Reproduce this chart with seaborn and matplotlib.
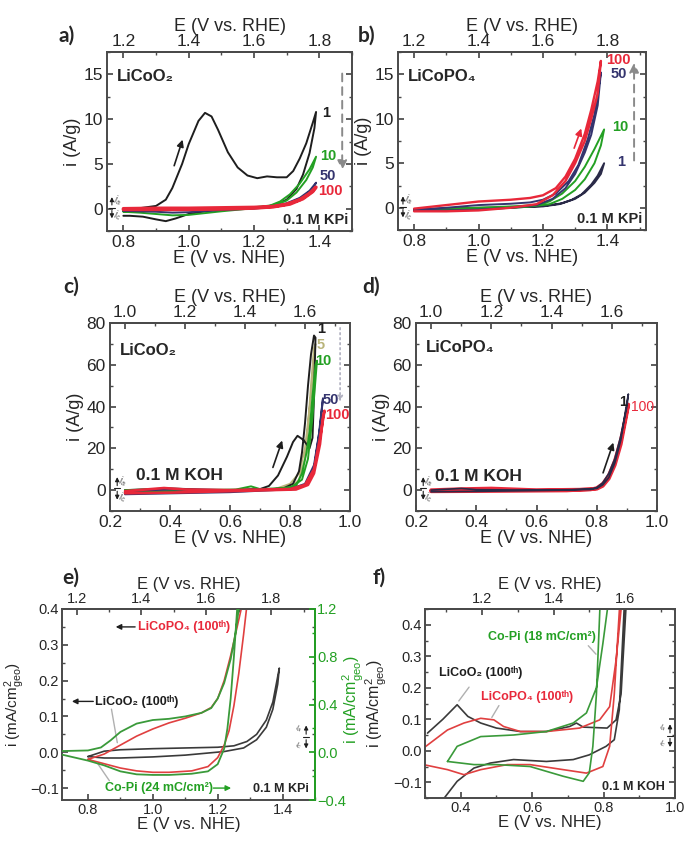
import numpy as np
import pandas as pd
import matplotlib
matplotlib.use("Agg")
import matplotlib.pyplot as plt
import seaborn as sns
from matplotlib.ticker import MultipleLocator

# ---------------- data: panel a (LiCoO2, KPi) ----------------
a1_fE = [0.80, 0.85, 0.90, 0.93, 0.95, 0.98, 1.00, 1.03, 1.05, 1.07, 1.09, 1.12, 1.15, 1.18, 1.21, 1.24, 1.27, 1.30, 1.32, 1.34, 1.36, 1.38, 1.39]
a1_fi = [0.0, 0.05, 0.3, 1.0, 2.3, 5.0, 7.2, 9.8, 10.7, 10.3, 8.8, 6.3, 4.6, 3.7, 3.4, 3.6, 3.5, 3.5, 4.2, 5.6, 7.3, 9.6, 10.8]
a1_rE = [1.385, 1.37, 1.35, 1.33, 1.30, 1.27, 1.24, 1.20, 1.10, 1.05, 1.00, 0.96, 0.93, 0.90, 0.86, 0.82, 0.80]
a1_ri = [9.0, 6.2, 3.8, 2.2, 1.0, 0.5, 0.25, 0.1, -0.1, -0.3, -0.6, -1.1, -1.4, -1.2, -0.9, -0.8, -0.8]
a10_fE = [0.80, 0.90, 1.00, 1.10, 1.20, 1.25, 1.28, 1.31, 1.34, 1.37, 1.39]
a10_fi = [-0.3, -0.2, -0.05, 0.05, 0.15, 0.35, 0.8, 1.6, 2.8, 4.4, 5.8]
a10_rE = [1.38, 1.36, 1.33, 1.30, 1.26, 1.20, 1.10, 1.00, 0.95, 0.90, 0.85, 0.80]
a10_ri = [4.6, 3.2, 1.8, 0.9, 0.35, 0.05, -0.3, -0.7, -0.75, -0.6, -0.45, -0.35]
a50_fE = [0.80, 0.90, 1.00, 1.10, 1.20, 1.26, 1.30, 1.34, 1.37, 1.39]
a50_fi = [-0.2, -0.1, 0.0, 0.05, 0.1, 0.25, 0.6, 1.2, 2.0, 2.9]
a50_rE = [1.38, 1.35, 1.31, 1.26, 1.20, 1.10, 1.00, 0.95, 0.90, 0.80]
a50_ri = [2.2, 1.3, 0.6, 0.2, 0.0, -0.15, -0.4, -0.45, -0.35, -0.25]
a100_fE = [0.80, 0.90, 1.00, 1.10, 1.20, 1.26, 1.30, 1.34, 1.37, 1.39]
a100_fi = [0.0, 0.05, 0.05, 0.1, 0.15, 0.25, 0.5, 1.0, 1.7, 2.4]
a100_rE = [1.38, 1.35, 1.31, 1.26, 1.20, 1.10, 1.00, 0.90, 0.80]
a100_ri = [1.9, 1.1, 0.5, 0.2, 0.05, -0.05, -0.1, -0.1, -0.1]

# ---------------- data: panel b (LiCoPO4, KPi) ----------------
b1_fE = [0.80, 0.90, 1.00, 1.10, 1.20, 1.25, 1.29, 1.32, 1.35, 1.37, 1.39]
b1_fi = [-0.2, -0.1, 0.0, 0.05, 0.15, 0.4, 0.9, 1.5, 2.6, 3.6, 5.0]
b1_rE = [1.38, 1.36, 1.33, 1.30, 1.26, 1.20, 1.10, 1.00, 0.90, 0.80]
b1_ri = [3.8, 2.8, 1.7, 1.0, 0.5, 0.2, 0.0, -0.1, -0.2, -0.3]
b10_fE = [0.80, 0.90, 1.00, 1.10, 1.18, 1.22, 1.26, 1.30, 1.33, 1.36, 1.39]
b10_fi = [-0.2, -0.1, 0.0, 0.15, 0.3, 0.7, 1.6, 3.0, 4.6, 6.6, 8.8]
b10_rE = [1.38, 1.36, 1.33, 1.30, 1.26, 1.22, 1.15, 1.05, 0.95, 0.85, 0.80]
b10_ri = [7.0, 5.0, 3.2, 2.0, 1.0, 0.4, 0.1, -0.1, -0.25, -0.3, -0.3]
b50_fE = [0.80, 0.90, 1.00, 1.10, 1.16, 1.20, 1.24, 1.28, 1.31, 1.34, 1.36, 1.38]
b50_fi = [-0.2, 0.0, 0.3, 0.45, 0.6, 0.9, 1.6, 3.0, 4.8, 7.8, 10.5, 15.2]
b50_rE = [1.37, 1.35, 1.33, 1.30, 1.27, 1.23, 1.18, 1.10, 1.00, 0.90, 0.80]
b50_ri = [11.5, 8.2, 6.2, 3.8, 2.2, 1.0, 0.3, 0.0, -0.2, -0.3, -0.3]
b100_fE = [0.80, 0.90, 1.00, 1.10, 1.16, 1.20, 1.24, 1.27, 1.30, 1.33, 1.35, 1.37, 1.38]
b100_fi = [-0.1, 0.3, 0.7, 0.9, 1.1, 1.4, 2.2, 3.5, 5.5, 8.3, 11.0, 14.2, 16.5]
b100_rE = [1.37, 1.35, 1.33, 1.30, 1.27, 1.23, 1.18, 1.10, 1.00, 0.90, 0.80]
b100_ri = [12.8, 10.0, 7.5, 5.0, 3.0, 1.4, 0.4, 0.0, -0.3, -0.4, -0.4]

# ---------------- data: panel c (LiCoO2, KOH) ----------------
c1_fE = [0.25, 0.40, 0.50, 0.60, 0.70, 0.73, 0.76, 0.79, 0.81, 0.825, 0.845, 0.865, 0.875, 0.88, 0.885]
c1_fi = [0.0, 0.8, 0.3, 0.0, 0.5, 2.0, 7.0, 16.0, 23.0, 26.0, 24.0, 20.0, 25.0, 45.0, 73.0]
c1_rE = [0.88, 0.87, 0.86, 0.85, 0.84, 0.83, 0.81, 0.78, 0.70, 0.60, 0.40, 0.25]
c1_ri = [74.0, 65.0, 50.0, 32.0, 18.0, 9.0, 3.0, 1.0, 0.0, -0.5, -1.0, -1.5]
c5_fE = [0.25, 0.60, 0.75, 0.80, 0.83, 0.85, 0.87, 0.885]
c5_fi = [0.0, 0.0, 0.5, 3.0, 8.0, 20.0, 45.0, 70.0]
c5_rE = [0.88, 0.87, 0.86, 0.85, 0.83, 0.80, 0.60, 0.25]
c5_ri = [68.0, 50.0, 30.0, 15.0, 5.0, 1.0, 0.0, -1.0]
c10_fE = [0.25, 0.38, 0.50, 0.62, 0.67, 0.70, 0.80, 0.84, 0.86, 0.875, 0.89]
c10_fi = [0.0, 0.5, 0.0, 0.3, 1.8, 0.5, 1.0, 5.0, 15.0, 35.0, 62.0]
c10_rE = [0.885, 0.875, 0.865, 0.855, 0.84, 0.82, 0.75, 0.60, 0.40, 0.25]
c10_ri = [60.0, 45.0, 28.0, 18.0, 8.0, 2.0, 0.3, -0.5, -0.5, -1.0]
c50_fE = [0.25, 0.40, 0.60, 0.80, 0.85, 0.88, 0.90, 0.91]
c50_fi = [-0.5, 0.3, 0.0, 0.5, 3.0, 12.0, 30.0, 44.0]
c50_rE = [0.905, 0.895, 0.88, 0.86, 0.82, 0.60, 0.25]
c50_ri = [38.0, 25.0, 10.0, 3.0, 0.5, -1.0, -2.0]
c100_fE = [0.25, 0.38, 0.45, 0.60, 0.80, 0.85, 0.88, 0.90, 0.915]
c100_fi = [-0.5, 1.0, 0.3, 0.0, 0.5, 2.5, 10.0, 25.0, 38.0]
c100_rE = [0.91, 0.90, 0.88, 0.86, 0.82, 0.60, 0.40, 0.25]
c100_ri = [35.0, 22.0, 8.0, 2.5, 0.3, -0.5, -1.2, -1.5]

# ---------------- data: panel d (LiCoPO4, KOH) ----------------
d1_fE = [0.25, 0.35, 0.40, 0.60, 0.78, 0.80, 0.82, 0.84, 0.86, 0.88, 0.90, 0.905]
d1_fi = [0.0, 0.8, 0.2, 0.0, 0.3, 1.2, 3.5, 8.0, 15.0, 26.0, 40.0, 46.0]
d1_rE = [0.90, 0.88, 0.86, 0.84, 0.82, 0.80, 0.70, 0.40, 0.25]
d1_ri = [42.0, 24.0, 13.0, 6.0, 2.5, 0.8, 0.0, -0.6, -0.8]
d100_fE = [0.25, 0.35, 0.45, 0.60, 0.78, 0.80, 0.82, 0.84, 0.86, 0.88, 0.90, 0.905]
d100_fi = [0.0, 0.5, 0.8, 0.0, 0.3, 1.0, 3.0, 7.0, 14.0, 24.0, 38.0, 41.0]
d100_rE = [0.90, 0.88, 0.86, 0.84, 0.82, 0.80, 0.70, 0.40, 0.25]
d100_ri = [37.0, 22.0, 12.0, 5.5, 2.0, 0.6, -0.2, -0.5, -0.6]

# ---------------- data: panel e (KPi, mA/cm2 geo) ----------------
eK_fE = [0.80, 0.85, 0.90, 1.00, 1.10, 1.20, 1.25, 1.29, 1.32, 1.35, 1.37, 1.39]
eK_fi = [-0.012, 0.003, 0.007, 0.010, 0.012, 0.014, 0.018, 0.03, 0.05, 0.09, 0.14, 0.235]
eK_rE = [1.385, 1.37, 1.35, 1.32, 1.28, 1.22, 1.10, 1.00, 0.90, 0.85, 0.80]
eK_ri = [0.19, 0.12, 0.07, 0.035, 0.012, 0.002, -0.008, -0.013, -0.016, -0.016, -0.012]
eP_fE = [0.80, 0.85, 0.90, 0.95, 1.00, 1.05, 1.10, 1.15, 1.18, 1.20, 1.22, 1.24, 1.26, 1.275]
eP_fi = [-0.02, -0.005, 0.02, 0.045, 0.065, 0.082, 0.095, 0.11, 0.125, 0.15, 0.2, 0.27, 0.35, 0.41]
eP_rE = [1.29, 1.28, 1.265, 1.25, 1.235, 1.22, 1.20, 1.17, 1.12, 1.05, 1.00, 0.95, 0.90, 0.85, 0.80]
eP_ri = [0.41, 0.33, 0.22, 0.13, 0.06, 0.02, -0.015, -0.04, -0.052, -0.056, -0.056, -0.052, -0.044, -0.032, -0.02]
eC_fE = [0.72, 0.80, 0.84, 0.87, 0.90, 0.95, 1.00, 1.05, 1.10, 1.15, 1.18, 1.20, 1.22, 1.24, 1.255, 1.265]
eC_fi = [0.01, 0.015, 0.04, 0.1, 0.17, 0.24, 0.27, 0.28, 0.3, 0.33, 0.37, 0.45, 0.58, 0.78, 1.0, 1.2]
eC_rE = [1.26, 1.25, 1.24, 1.23, 1.22, 1.20, 1.17, 1.12, 1.05, 1.00, 0.95, 0.90, 0.85, 0.80, 0.72]
eC_ri = [1.2, 0.8, 0.45, 0.2, 0.03, -0.1, -0.16, -0.18, -0.19, -0.19, -0.185, -0.16, -0.11, -0.07, -0.02]

# ---------------- data: panel f (KOH, mA/cm2 geo) ----------------
fK_fE = [0.307, 0.35, 0.39, 0.42, 0.456, 0.50, 0.567, 0.64, 0.705, 0.724, 0.743, 0.81, 0.835, 0.849, 0.863]
fK_fi = [0.056, 0.10, 0.146, 0.109, 0.088, 0.072, 0.061, 0.061, 0.077, 0.088, 0.075, 0.072, 0.098, 0.18, 0.46]
fK_rE = [0.858, 0.844, 0.83, 0.807, 0.76, 0.715, 0.64, 0.548, 0.483, 0.437, 0.39, 0.354, 0.335]
fK_ri = [0.46, 0.13, 0.035, 0.014, -0.013, -0.028, -0.034, -0.028, -0.039, -0.055, -0.097, -0.15, -0.17]
fP_fE = [0.30, 0.363, 0.409, 0.456, 0.493, 0.52, 0.567, 0.64, 0.733, 0.789, 0.817, 0.835, 0.85]
fP_fi = [0.012, 0.066, 0.088, 0.103, 0.098, 0.077, 0.061, 0.061, 0.072, 0.098, 0.14, 0.288, 0.46]
fP_rE = [0.845, 0.83, 0.817, 0.798, 0.752, 0.687, 0.594, 0.53, 0.456, 0.409, 0.363, 0.30]
fP_ri = [0.46, 0.18, 0.014, -0.05, -0.071, -0.06, -0.044, -0.044, -0.06, -0.076, -0.06, -0.045]
fC_fE = [0.363, 0.39, 0.456, 0.548, 0.64, 0.715, 0.752, 0.78, 0.798, 0.812]
fC_fi = [-0.034, 0.014, 0.045, 0.05, 0.061, 0.088, 0.12, 0.2, 0.34, 0.46]
fC_rE = [0.79, 0.78, 0.77, 0.76, 0.743, 0.687, 0.594, 0.50, 0.437, 0.363]
fC_ri = [0.46, 0.18, 0.014, -0.07, -0.097, -0.081, -0.05, -0.044, -0.044, -0.034]

# tick labels
ticks_nhe_ab = [0.8, 1.0, 1.2, 1.4]
ticks_rhe_ab = [1.2, 1.4, 1.6, 1.8]
ticks_nhe_cd = [0.2, 0.4, 0.6, 0.8, 1.0]
ticks_rhe_cd = [1.0, 1.2, 1.4, 1.6]
ticks_nhe_e = [0.8, 1.0, 1.2, 1.4]
ticks_rhe_e = [1.2, 1.4, 1.6, 1.8]
ticks_nhe_f = [0.4, 0.6, 0.8, 1.0]
ticks_rhe_f = [1.2, 1.4, 1.6]

# ---------------- style ----------------
sns.set_theme(style="ticks")
plt.rcParams["font.family"] = ["Liberation Sans", "DejaVu Sans"]
plt.rcParams["mathtext.fontset"] = "custom"
plt.rcParams["mathtext.rm"] = "Liberation Sans"
plt.rcParams["mathtext.it"] = "Liberation Sans:italic"
plt.rcParams["mathtext.bf"] = "Liberation Sans:bold"

BLACK = "#1e1e1e"
GREEN = "#23a023"
NAVY = "#34346e"
RED = "#e8283a"
OLIVE = "#b9b47a"
GRAY = "#8a8a8a"
SPINE = "#4a4a4a"

W, H = 695, 844
fig = plt.figure(figsize=(W / 100, H / 100), dpi=100)


def add_ax(l, r, t, b):
    return fig.add_axes([l / W, 1 - b / H, (r - l) / W, (b - t) / H])


def cv(ax, fE, fi, rE, ri, color, lw=1.4, z=2):
    df = pd.DataFrame({"E": list(fE) + list(rE), "i": list(fi) + list(ri)})
    sns.lineplot(data=df, x="E", y="i", sort=False, estimator=None,
                 color=color, lw=lw, ax=ax, legend=False, zorder=z)


def style(ax, xlim, ylim, xt, xminor, ymaj, ymin, off, rt, fs, lfs, rmin=0.1, pad=3):
    ax.set_xlim(*xlim)
    ax.set_xticks(xt)
    ax.xaxis.set_minor_locator(MultipleLocator(xminor))
    ax.yaxis.set_major_locator(MultipleLocator(ymaj))
    ax.yaxis.set_minor_locator(MultipleLocator(ymin))
    ax.set_ylim(*ylim)
    ax.tick_params(which="both", direction="in", top=False, right=True,
                   labelsize=fs, color=SPINE, pad=pad)
    ax.tick_params(which="major", length=4)
    ax.tick_params(which="minor", length=2)
    for s in ax.spines.values():
        s.set_color(SPINE)
        s.set_linewidth(1.4)
    ax.set_xlabel("E (V vs. NHE)", fontsize=lfs, labelpad=0)
    sec = ax.secondary_xaxis("top", functions=(lambda x: x + off, lambda x: x - off))
    sec.set_xticks(rt)
    sec.xaxis.set_minor_locator(MultipleLocator(rmin))
    sec.tick_params(which="both", direction="in", labelsize=fs, color=SPINE, pad=2)
    sec.tick_params(which="major", length=4)
    sec.tick_params(which="minor", length=2)
    sec.spines["top"].set_color(SPINE)
    sec.spines["top"].set_linewidth(1.4)
    sec.set_xlabel("E (V vs. RHE)", fontsize=lfs, labelpad=2.5)
    return sec


def iaic(ax, x, y, size=7, right=False):
    # small legend glyph: anodic up, cathodic down
    ax.annotate("", xy=(x, y + 0.075), xytext=(x, y), xycoords="axes fraction",
                arrowprops=dict(arrowstyle="-|>", color=BLACK, lw=0.8, mutation_scale=6))
    ax.annotate("", xy=(x, y - 0.075), xytext=(x, y), xycoords="axes fraction",
                arrowprops=dict(arrowstyle="-|>", color=BLACK, lw=0.8, mutation_scale=6))
    ax.plot([x - 0.012, x + 0.012], [y, y], transform=ax.transAxes, color=BLACK, lw=0.8)
    dx = -0.03 if right else 0.022
    ax.text(x + dx, y + 0.04, "$i_a$", transform=ax.transAxes, fontsize=size,
            color="#555555", ha="center", va="center", rotation=-15)
    ax.text(x + dx, y - 0.045, "$i_c$", transform=ax.transAxes, fontsize=size,
            color="#555555", ha="center", va="center", rotation=-15)


# ================= panel a =================
ax = add_ax(107, 352, 52, 231)
cv(ax, a1_fE, a1_fi, a1_rE, a1_ri, BLACK)
cv(ax, a10_fE, a10_fi, a10_rE, a10_ri, GREEN)
cv(ax, a50_fE, a50_fi, a50_rE, a50_ri, NAVY)
cv(ax, a100_fE, a100_fi, a100_rE, a100_ri, RED, lw=2.4)
style(ax, (0.75, 1.5), (-2.5, 17.5), ticks_nhe_ab, 0.1, 5, 2.5, 0.4, ticks_rhe_ab, 12.5, 13)
ax.set_ylabel("i (A/g)", fontsize=13, labelpad=2)
ax.text(0.04, 0.865, "LiCoO₂", transform=ax.transAxes, fontsize=12, weight="bold", va="center")
ax.text(0.985, 0.06, "0.1 M KPi", transform=ax.transAxes, fontsize=10.5, weight="bold", ha="right", va="center")
for txt, xx, yy, c in [("1", 1.408, 10.7, BLACK), ("10", 1.402, 5.9, GREEN), ("50", 1.402, 3.7, NAVY), ("100", 1.396, 2.0, RED)]:
    ax.text(xx, yy, txt, fontsize=10.5, weight="bold", color=c, va="center")
ax.annotate("", xy=(0.984, 8.0), xytext=(0.953, 4.5),
            arrowprops=dict(arrowstyle="-|>", color=BLACK, lw=1.2, mutation_scale=10))
ax.annotate("", xy=(1.47, 4.0), xytext=(1.47, 15.4),
            arrowprops=dict(arrowstyle="-|>", color=GRAY, lw=1.4, ls=(0, (4, 3)), mutation_scale=14))
iaic(ax, 0.02, 0.13)
fig.text(58 / W, 1 - 36 / H, "a)", fontsize=15, weight="bold", family="Lato", va="center")

# ================= panel b =================
ax = add_ax(398, 646, 52, 230)
cv(ax, b1_fE, b1_fi, b1_rE, b1_ri, "#2a2a48")
cv(ax, b10_fE, b10_fi, b10_rE, b10_ri, GREEN)
cv(ax, b50_fE, b50_fi, b50_rE, b50_ri, NAVY)
cv(ax, b100_fE, b100_fi, b100_rE, b100_ri, RED, lw=1.7)
style(ax, (0.75, 1.52), (-2.5, 17.5), ticks_nhe_ab, 0.1, 5, 2.5, 0.4, ticks_rhe_ab, 12.5, 13)
ax.set_ylabel("i (A/g)", fontsize=13, labelpad=2)
ax.text(0.04, 0.86, "LiCoPO₄", transform=ax.transAxes, fontsize=12, weight="bold", va="center")
ax.text(0.985, 0.06, "0.1 M KPi", transform=ax.transAxes, fontsize=10.5, weight="bold", ha="right", va="center")
for txt, xx, yy, c in [("100", 1.396, 16.6, RED), ("50", 1.41, 15.0, NAVY), ("10", 1.415, 9.1, GREEN), ("1", 1.43, 5.1, NAVY)]:
    ax.text(xx, yy, txt, fontsize=10.5, weight="bold", color=c, va="center")
ax.annotate("", xy=(1.322, 9.2), xytext=(1.294, 6.4),
            arrowprops=dict(arrowstyle="-|>", color=RED, lw=1.2, mutation_scale=10))
ax.annotate("", xy=(1.483, 16.6), xytext=(1.483, 5.0),
            arrowprops=dict(arrowstyle="-|>", color=GRAY, lw=1.4, ls=(0, (4, 3)), mutation_scale=14))
iaic(ax, 0.02, 0.13)
fig.text(358 / W, 1 - 36 / H, "b)", fontsize=15, weight="bold", family="Lato", va="center")

# ================= panel c =================
ax = add_ax(110, 350, 323, 511)
cv(ax, c5_fE, c5_fi, c5_rE, c5_ri, OLIVE)
cv(ax, c1_fE, c1_fi, c1_rE, c1_ri, BLACK)
cv(ax, c10_fE, c10_fi, c10_rE, c10_ri, GREEN)
cv(ax, c50_fE, c50_fi, c50_rE, c50_ri, NAVY)
cv(ax, c100_fE, c100_fi, c100_rE, c100_ri, RED, lw=1.9)
style(ax, (0.2, 1.0), (-10, 80), ticks_nhe_cd, 0.1, 20, 10, 0.75, ticks_rhe_cd, 12.5, 13)
ax.set_ylabel("i (A/g)", fontsize=13, labelpad=2)
ax.text(0.04, 0.856, "LiCoO₂", transform=ax.transAxes, fontsize=12, weight="bold", va="center")
ax.text(0.11, 0.19, "0.1 M KOH", transform=ax.transAxes, fontsize=12.5, weight="bold", va="center")
for txt, xx, yy, c in [("1", 0.89, 77, BLACK), ("5", 0.89, 69.5, OLIVE), ("10", 0.883, 62, GREEN), ("50", 0.91, 43, NAVY), ("100", 0.917, 36, RED)]:
    ax.text(xx, yy, txt, fontsize=10.5, weight="bold", color=c, va="center")
ax.annotate("", xy=(0.777, 25), xytext=(0.74, 9.6),
            arrowprops=dict(arrowstyle="-|>", color=BLACK, lw=1.2, mutation_scale=10))
ax.annotate("", xy=(0.967, 41), xytext=(0.967, 79),
            arrowprops=dict(arrowstyle="-|>", color="#b0b0c0", lw=1.2, ls=(0, (1, 2)), mutation_scale=8))
iaic(ax, 0.03, 0.12)
fig.text(63 / W, 1 - 287 / H, "c)", fontsize=15, weight="bold", family="Lato", va="center")

# ================= panel d =================
ax = add_ax(416, 657, 323, 511)
cv(ax, d100_fE, d100_fi, d100_rE, d100_ri, RED, lw=2.6)
cv(ax, d1_fE, d1_fi, d1_rE, d1_ri, "#2a2a48", lw=1.2, z=3)
style(ax, (0.2, 1.0), (-10, 80), ticks_nhe_cd, 0.1, 20, 10, 0.75, ticks_rhe_cd, 12.5, 13)
ax.set_ylabel("i (A/g)", fontsize=13, labelpad=2)
ax.text(0.04, 0.87, "LiCoPO₄", transform=ax.transAxes, fontsize=12, weight="bold", va="center")
ax.text(0.08, 0.186, "0.1 M KOH", transform=ax.transAxes, fontsize=12.5, weight="bold", va="center")
ax.text(0.875, 42, "1", fontsize=10, weight="bold", color=BLACK, va="center")
ax.text(0.915, 40, "100", fontsize=10, color=RED, va="center")
ax.annotate("", xy=(0.858, 24), xytext=(0.818, 7),
            arrowprops=dict(arrowstyle="-|>", color=BLACK, lw=1.2, mutation_scale=10))
iaic(ax, 0.03, 0.12)
fig.text(362 / W, 1 - 287 / H, "d)", fontsize=15, weight="bold", family="Lato", va="center")

# ================= panel e =================
ax = add_ax(62, 315, 609, 800)
axr = ax.twinx()
cv(axr, eC_fE, eC_fi, eC_rE, eC_ri, "#3a9a3a", lw=1.3)
cv(ax, eK_fE, eK_fi, eK_rE, eK_ri, "#3a3a3a", lw=1.2)
cv(ax, eP_fE, eP_fi, eP_rE, eP_ri, "#e04040", lw=1.2)
style(ax, (0.72, 1.5), (-0.1333, 0.4), ticks_nhe_e, 0.1, 0.1, 0.05, 0.435, ticks_rhe_e, 10.5, 12, pad=2)
ax.tick_params(right=False)
ax.set_ylabel(r"i (mA/cm$^2_{\mathrm{geo}}$)", fontsize=11)
ax.yaxis.set_label_coords((27 - 62) / 253, 0.5)
axr.set_ylim(-0.4, 1.2)
axr.set_yticks([-0.4, 0.0, 0.4, 0.8, 1.2])
axr.yaxis.set_minor_locator(MultipleLocator(0.2))
axr.tick_params(which="both", direction="in", colors=GREEN, labelsize=10.5, pad=1.5)
axr.tick_params(which="major", length=4)
axr.tick_params(which="minor", length=2)
axr.set_ylabel("")
axr.set_xlabel("")
axr.spines["right"].set_color(GREEN)
axr.spines["right"].set_linewidth(1.4)
for s in ["left", "top", "bottom"]:
    axr.spines[s].set_visible(False)
fig.text(353 / W, 1 - 700 / H, r"i (mA/cm$^2_{\mathrm{geo}}$)", fontsize=11.5, color=GREEN,
         rotation=90, ha="center", va="center")
ax.text(1.095, 0.35, "LiCoPO₄ (100ᵗʰ)", fontsize=9, weight="bold", color=RED, ha="center", va="center")
ax.annotate("", xy=(0.877, 0.35), xytext=(0.954, 0.35),
            arrowprops=dict(arrowstyle="-|>", color=BLACK, lw=1.0, mutation_scale=8))
ax.text(0.95, 0.142, "LiCoO₂ (100ᵗʰ)", fontsize=9, weight="bold", color=BLACK, ha="center", va="center")
ax.annotate("", xy=(0.742, 0.142), xytext=(0.825, 0.142),
            arrowprops=dict(arrowstyle="-|>", color=BLACK, lw=1.0, mutation_scale=8))
ax.annotate("", xy=(0.892, 0.019), xytext=(0.871, 0.128),
            arrowprops=dict(arrowstyle="-", color="#b0b0b0", lw=1.0))
ax.text(1.02, -0.1, "Co-Pi (24 mC/cm²)", fontsize=9, weight="bold", color=GREEN, ha="center", va="center")
ax.annotate("", xy=(1.25, -0.1), xytext=(1.178, -0.1),
            arrowprops=dict(arrowstyle="-|>", color=GREEN, lw=1.0, mutation_scale=8))
ax.annotate("", xy=(0.825, -0.025), xytext=(0.871, -0.086),
            arrowprops=dict(arrowstyle="-", color="#b0b0b0", lw=1.0))
ax.text(0.975, 0.06, "0.1 M KPi", transform=ax.transAxes, fontsize=9, weight="bold", ha="right", va="center")
iaic(ax, 0.965, 0.33, size=6, right=True)
fig.text(62 / W, 1 - 578 / H, "e)", fontsize=15, weight="bold", family="Lato", va="center")

# ================= panel f =================
ax = add_ax(425, 675, 609, 798)
cv(ax, fK_fE, fK_fi, fK_rE, fK_ri, "#3a3a3a", lw=1.2)
cv(ax, fP_fE, fP_fi, fP_rE, fP_ri, "#e04040", lw=1.2)
cv(ax, fC_fE, fC_fi, fC_rE, fC_ri, "#3a9a3a", lw=1.2)
style(ax, (0.3, 1.0), (-0.15, 0.45), ticks_nhe_f, 0.1, 0.1, 0.05, 0.74, ticks_rhe_f, 10.5, 12, pad=2)
ax.set_ylabel(r"i (mA/cm$^2_{\mathrm{geo}}$)", fontsize=11.5)
ax.yaxis.set_label_coords((389 - 425) / 250, 0.5)
ax.text(0.628, 0.36, "Co-Pi (18 mC/cm²)", fontsize=9, weight="bold", color=GREEN, ha="center", va="center")
ax.annotate("", xy=(0.784, 0.30), xytext=(0.752, 0.34),
            arrowprops=dict(arrowstyle="-", color="#b0b0b0", lw=1.0))
ax.text(0.456, 0.247, "LiCoO₂ (100ᵗʰ)", fontsize=9, weight="bold", color=BLACK, ha="center", va="center")
ax.annotate("", xy=(0.39, 0.151), xytext=(0.428, 0.209),
            arrowprops=dict(arrowstyle="-", color="#b0b0b0", lw=1.0))
ax.text(0.586, 0.171, "LiCoPO₄ (100ᵗʰ)", fontsize=9, weight="bold", color=RED, ha="center", va="center")
ax.annotate("", xy=(0.483, 0.098), xytext=(0.511, 0.151),
            arrowprops=dict(arrowstyle="-", color="#b0b0b0", lw=1.0))
ax.text(0.96, 0.06, "0.1 M KOH", transform=ax.transAxes, fontsize=9, weight="bold", ha="right", va="center")
iaic(ax, 0.98, 0.33, size=6, right=True)
fig.text(373 / W, 1 - 578 / H, "f)", fontsize=15, weight="bold", family="Lato", va="center")

fig.savefig("out.png", dpi=100)
